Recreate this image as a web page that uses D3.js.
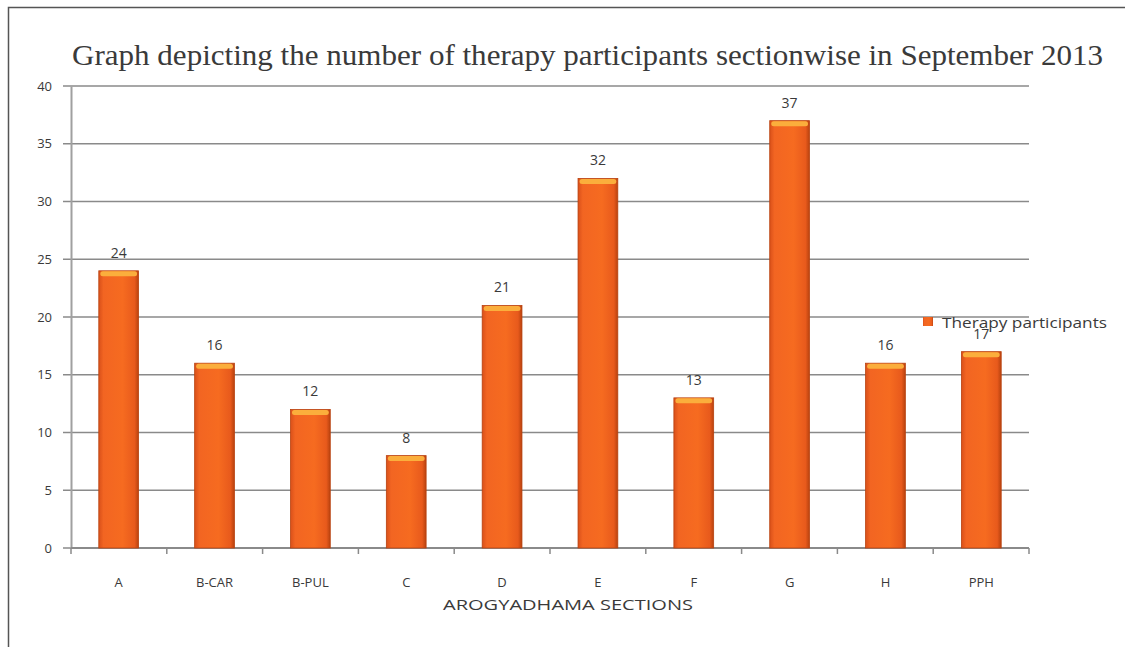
<!DOCTYPE html>
<html lang="en">
  <head>
    <meta charset="UTF-8" />
    <title>Therapy participants</title>
    <style>
      body { margin: 0; background: #fff; }
      text { fill: #3a3a3a; }
    </style>
  </head>
  <body>
    <svg id="svg" width="1125" height="647"></svg>
    <script src="https://d3js.org/d3.v7.min.js"></script>
    <script>
      const sections = ["A", "B-CAR", "B-PUL", "C", "D", "E", "F", "G", "H", "PPH"];
      const participants = [24, 16, 12, 8, 21, 32, 13, 37, 16, 17];
      const yTicks = [0, 5, 10, 15, 20, 25, 30, 35, 40];

      const margin = { top: 86, right: 96, bottom: 99, left: 71 };
      const svgWidth = 1125;
      const svgHeight = 647;
      const height = svgHeight - margin.top - margin.bottom;

      const svg = d3.select("#svg");

      // outer frame (only top and left edges are visible)
      svg.append("rect")
        .attr("x", 8.5).attr("y", 7.5)
        .attr("width", 1200).attr("height", 700)
        .attr("fill", "none").attr("stroke", "#555").attr("stroke-width", 1.5);

      const defs = svg.append("defs");
      const grad = defs.append("linearGradient").attr("id", "barGrad")
        .attr("x1", "0").attr("x2", "1").attr("y1", "0").attr("y2", "0");
      grad.append("stop").attr("offset", "0%").attr("stop-color", "#d9501a");
      grad.append("stop").attr("offset", "12%").attr("stop-color", "#f26522");
      grad.append("stop").attr("offset", "60%").attr("stop-color", "#f66b20");
      grad.append("stop").attr("offset", "90%").attr("stop-color", "#e85a1c");
      grad.append("stop").attr("offset", "100%").attr("stop-color", "#b8420f");

      const xScale = d3.scaleBand()
        .domain(sections)
        .range([margin.left, 1029])
        .paddingInner(0.585)
        .paddingOuter(0.29);

      const yScale = d3.scaleLinear()
        .domain([0, 40])
        .range([margin.top + height, margin.top]);

      // gridlines
      svg.append("g")
        .selectAll("line")
        .data(yTicks)
        .join("line")
        .attr("x1", 63).attr("x2", 1029)
        .attr("y1", d => yScale(d)).attr("y2", d => yScale(d))
        .attr("stroke", "#8a8a8a").attr("stroke-width", 1.5);

      // y axis
      const yAxis = svg.append("g")
        .attr("transform", `translate(${margin.left}, 0)`)
        .call(d3.axisLeft(yScale).tickValues(yTicks).tickSize(0).tickPadding(19));
      yAxis.select(".domain").attr("stroke", "#a0a0a0").attr("stroke-width", 2);
      yAxis.selectAll("text")
        .style("font-family", "'Open Sans', sans-serif")
        .style("font-size", "13px")
        .attr("fill", "#3a3a3a");

      // x axis with ticks at category boundaries
      const bounds = d3.range(sections.length + 1).map(i => margin.left + i * (1029 - margin.left) / sections.length);
      const xAxis = svg.append("g");
      xAxis.append("line")
        .attr("x1", margin.left).attr("x2", 1029)
        .attr("y1", yScale(0)).attr("y2", yScale(0))
        .attr("stroke", "#8a8a8a").attr("stroke-width", 2);
      xAxis.selectAll("line.tick")
        .data(bounds)
        .join("line")
        .attr("class", "tick")
        .attr("x1", d => d).attr("x2", d => d)
        .attr("y1", yScale(0)).attr("y2", yScale(0) + 6)
        .attr("stroke", "#8a8a8a").attr("stroke-width", 1.5);
      xAxis.selectAll("text")
        .data(sections)
        .join("text")
        .attr("x", d => xScale(d) + xScale.bandwidth() / 2)
        .attr("y", 587)
        .attr("text-anchor", "middle")
        .style("font-family", "'Open Sans', sans-serif")
        .style("font-size", "13px")
        .text(d => d);

      // bars
      const bars = svg.append("g");
      const data = sections.map((s, i) => ({ s, v: participants[i] }));
      bars.selectAll("rect.bar")
        .data(data)
        .join("rect")
        .attr("class", "bar")
        .attr("x", d => xScale(d.s))
        .attr("y", d => yScale(d.v))
        .attr("width", xScale.bandwidth())
        .attr("height", d => yScale(0) - yScale(d.v))
        .attr("fill", "url(#barGrad)")
        .attr("stroke", "#b8420f").attr("stroke-width", 0.8);
      bars.selectAll("rect.cap")
        .data(data)
        .join("rect")
        .attr("class", "cap")
        .attr("x", d => xScale(d.s) + 1.5)
        .attr("y", d => yScale(d.v) + 0.5)
        .attr("width", xScale.bandwidth() - 3)
        .attr("height", 5)
        .attr("rx", 2.5)
        .attr("fill", "#fbae3c");

      // value labels
      svg.append("g")
        .selectAll("text")
        .data(data)
        .join("text")
        .attr("x", d => xScale(d.s) + xScale.bandwidth() / 2)
        .attr("y", d => yScale(d.v) - 13)
        .attr("text-anchor", "middle")
        .style("font-family", "'Open Sans', sans-serif")
        .style("font-size", "14px")
        .text(d => d.v);

      // title
      svg.append("text")
        .attr("x", 72).attr("y", 65)
        .attr("textLength", 1031)
        .attr("lengthAdjust", "spacingAndGlyphs")
        .style("font-family", "'Liberation Serif', serif")
        .style("font-size", "30px")
        .text("Graph depicting the number of therapy participants sectionwise in September 2013");

      // x axis title
      svg.append("text")
        .attr("x", 568).attr("y", 610)
        .attr("text-anchor", "middle")
        .attr("textLength", 250)
        .attr("lengthAdjust", "spacingAndGlyphs")
        .style("font-family", "'Open Sans', sans-serif")
        .style("font-size", "15px")
        .text("AROGYADHAMA SECTIONS");

      // legend
      const legend = svg.append("g").attr("transform", "translate(923, 317)");
      legend.append("rect")
        .attr("width", 10).attr("height", 9)
        .attr("fill", "url(#barGrad)");
      legend.append("text")
        .attr("x", 19).attr("y", 11)
        .attr("textLength", 165)
        .attr("lengthAdjust", "spacingAndGlyphs")
        .style("font-family", "'Open Sans', sans-serif")
        .style("font-size", "14px")
        .text("Therapy participants");
    </script>
  </body>
</html>
